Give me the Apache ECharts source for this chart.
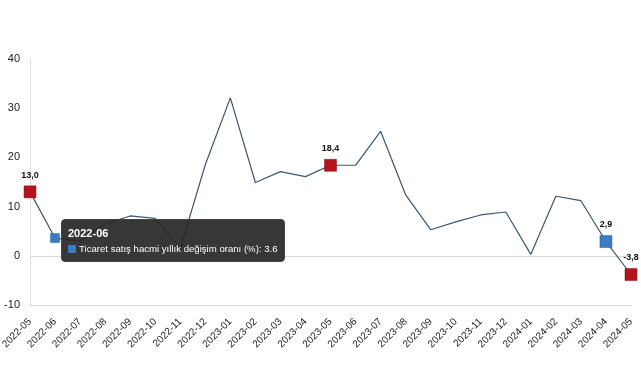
<!DOCTYPE html>
<html>
<head>
<meta charset="utf-8">
<script src="https://cdn.jsdelivr.net/npm/echarts@6/dist/echarts.min.js"></script>
<style>
html,body{margin:0;padding:0;background:#fff;}
#c{width:641px;height:380px;}
</style>
</head>
<body>
<div id="c"></div>
<script>
const categories = ['2022-05','2022-06','2022-07','2022-08','2022-09','2022-10','2022-11','2022-12',
  '2023-01','2023-02','2023-03','2023-04','2023-05','2023-06','2023-07','2023-08','2023-09','2023-10',
  '2023-11','2023-12','2024-01','2024-02','2024-03','2024-04','2024-05'];
const values = [13.0, 3.6, 3.0, 6.5, 8.1, 7.6, 1.5, 18.5, 32.1, 14.9, 17.1, 16.1, 18.4, 18.4, 25.3, 12.4,
  5.3, 6.9, 8.3, 8.9, 0.3, 12.1, 11.2, 2.9, -3.8];
const redIdx = [0, 12, 24];
const blueIdx = [1, 23];
const labelIdx = [0, 12, 23, 24];
const yTicks = [-10, 0, 10, 20, 30, 40];
const seriesName = 'Ticaret satış hacmi yıllık değişim oranı (%)';

const RED = '#b3141c', BLUE = '#3a7dc2';
const data = values.map((v, i) => {
  const isRed = redIdx.includes(i), isBlue = blueIdx.includes(i);
  if (isRed || isBlue) {
    return {
      value: v, symbol: 'rect', symbolSize: i === 1 ? 9 : 12,
      itemStyle: {color: isRed ? RED : BLUE, borderColor: isRed ? '#8a0e14' : '#2c5f95', borderWidth: 0.5},
      label: {show: labelIdx.includes(i)}
    };
  }
  return {value: v, symbol: 'none'};
});

const chart = echarts.init(document.getElementById('c'), null, {renderer: 'canvas'});
chart.setOption({
  animation: false,
  textStyle: {fontFamily: 'Liberation Sans, Arial, sans-serif'},
  grid: {left: 30, right: 10, top: 59, bottom: 75, containLabel: false, outerBoundsMode: 'none'},
  tooltip: {
    trigger: 'item',
    transitionDuration: 0,
    position: [61, 219],
    backgroundColor: 'rgba(38,38,38,0.92)',
    borderColor: '#444',
    borderWidth: 1,
    padding: [5, 6],
    extraCssText: 'border-radius:4px;box-shadow:none;',
    textStyle: {color: '#fff', fontSize: 10, fontFamily: 'Liberation Sans, Arial, sans-serif'},
    formatter: function (p) {
      return '<div style="font-weight:bold;font-size:11px;line-height:15px;margin-top:1px">' + categories[p.dataIndex] + '</div>' +
        '<div style="line-height:15px;font-size:9.6px"><span style="display:inline-block;width:8px;height:8px;background:' + BLUE +
        ';margin-right:3px;vertical-align:-1px"></span>' + seriesName + ': ' + values[p.dataIndex] + '</div>';
    }
  },
  xAxis: {
    type: 'category',
    data: categories,
    boundaryGap: false,
    axisLine: {show: false},
    axisTick: {show: false},
    axisLabel: {rotate: 45, color: '#222', fontSize: 10, margin: 15, interval: 0}
  },
  yAxis: {
    type: 'value',
    min: yTicks[0], max: yTicks[yTicks.length - 1], interval: 10,
    axisLine: {show: true, lineStyle: {color: '#ddd'}},
    axisTick: {show: false},
    axisLabel: {color: '#222', fontSize: 11, margin: 10},
    splitLine: {show: true, lineStyle: {color: ['#d8d8d8', '#d8d8d8', 'transparent', 'transparent', 'transparent', 'transparent'], width: 1}}
  },
  series: [{
    name: seriesName,
    type: 'line',
    data: data,
    lineStyle: {color: '#3b566e', width: 1.2},
    itemStyle: {color: BLUE},
    emphasis: {disabled: true},
    label: {
      show: false, position: 'top', distance: 6, color: '#111', fontSize: 9, fontWeight: 'bold',
      formatter: p => p.value.toFixed(1).replace('.', ',')
    }
  }]
});
chart.dispatchAction({type: 'showTip', seriesIndex: 0, dataIndex: 1});
</script>
</body>
</html>
